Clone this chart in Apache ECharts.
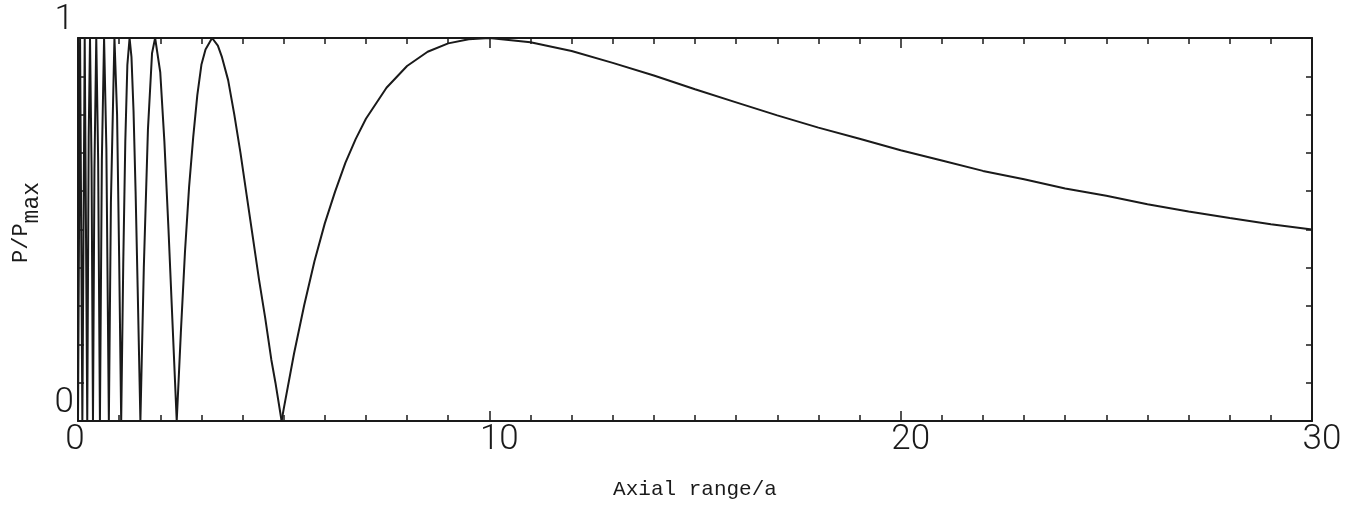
<!DOCTYPE html>
<html>
<head>
<meta charset="utf-8">
<script src="https://cdn.jsdelivr.net/npm/echarts@6/dist/echarts.min.js"></script>
<style>
  html, body { margin: 0; padding: 0; background: #fff; }
  #chart { width: 1359px; height: 529px; }
</style>
</head>
<body>
<div id="chart"></div>
<script>
// near field: lobes between the on-axis nulls
var nearRange = [0, 0.05, 0.106, 0.163, 0.225, 0.26, 0.292, 0.33, 0.364, 0.4, 0.444, 0.49, 0.533,
  0.58, 0.634, 0.69, 0.75, 0.8, 0.886, 0.95, 1.0, 1.05, 1.1, 1.15, 1.2, 1.254, 1.3, 1.35, 1.4, 1.45, 1.517,
  1.6, 1.7, 1.8, 1.875, 2.0, 2.1, 2.2, 2.3, 2.4, 2.5, 2.6, 2.7, 2.8, 2.9, 3.0, 3.1, 3.26, 3.4, 3.5,
  3.65, 3.8, 3.95, 4.1, 4.25, 4.4, 4.55, 4.7, 4.8, 4.95];
var nearRatio = [0, 1, 0, 1, 0, 0.74, 1, 0.66, 0, 0.66, 1, 0.68, 0,
  0.68, 1, 0.71, 0, 0.57, 1, 0.80, 0.43, 0, 0.41, 0.73, 0.93, 1, 0.95, 0.81, 0.60, 0.35, 0,
  0.40, 0.76, 0.96, 1, 0.91, 0.73, 0.50, 0.25, 0, 0.23, 0.44, 0.61, 0.74, 0.85, 0.93, 0.97, 1, 0.98, 0.95,
  0.89, 0.80, 0.70, 0.59, 0.48, 0.37, 0.27, 0.16, 0.10, 0];

// far field: last maximum near 10 then the slow decay
var farRange = [4.95, 5.0, 5.25, 5.5, 5.75, 6, 6.25, 6.5, 6.75, 7, 7.5, 8, 8.5, 9, 9.5, 10, 11, 12, 13, 14, 15,
  16, 17, 18, 19, 20, 21, 22, 23, 24, 25, 26, 27, 28, 29, 30];
var farRatio = [0, 0.031, 0.175, 0.303, 0.418, 0.516, 0.599, 0.674, 0.736, 0.789, 0.870, 0.927, 0.964, 0.986,
  0.997, 1.0, 0.989, 0.966, 0.935, 0.902, 0.866, 0.832, 0.798, 0.766, 0.737, 0.707, 0.680, 0.653,
  0.631, 0.607, 0.588, 0.566, 0.547, 0.530, 0.514, 0.500];

var xTicks = [0, 10, 20, 30];
var yTicks = [0, 1];

function pairs(xs, ys) {
  var out = [];
  for (var i = 0; i < xs.length; i++) out.push([xs[i], ys[i]]);
  return out;
}

var ink = '#1a1a1a';
var digitFont = { fontFamily: 'Roboto', fontWeight: 300, fontSize: 35, color: ink, lineHeight: 35 };

function xAxisFor(pos, labels) {
  return {
    type: 'value', position: pos, min: 0, max: 30, interval: 10,
    axisLine: { show: true, onZero: false, lineStyle: { color: ink, width: 2 } },
    axisTick: { show: true, inside: true, length: 10, lineStyle: { color: ink, width: 1.5 } },
    minorTick: { show: true, splitNumber: 10, length: 6, lineStyle: { color: ink, width: 1.5 } },
    splitLine: { show: false },
    axisLabel: labels ? Object.assign({
      show: true, margin: 2,
      formatter: function (v) {
        if (xTicks.indexOf(v) < 0) return '';
        return v === 0 ? '{z|0}' : '{s|' + v + '}';
      },
      rich: {
        z: Object.assign({ padding: [0, 6, 0, 0] }, digitFont),
        s: Object.assign({ padding: [0, 0, 0, 20] }, digitFont)
      }
    }, digitFont) : { show: false }
  };
}

function yAxisFor(pos, labels) {
  return {
    type: 'value', position: pos, min: 0, max: 1, interval: 0.1,
    axisLine: { show: true, onZero: false, lineStyle: { color: ink, width: 2 } },
    axisTick: { show: true, inside: true, length: 6, lineStyle: { color: ink, width: 1.5 } },
    splitLine: { show: false },
    axisLabel: labels ? Object.assign({ show: true, margin: 4, verticalAlign: 'bottom', lineHeight: 30,
      formatter: function (v) {
        var r = Math.round(v * 10) / 10;
        return yTicks.indexOf(r) >= 0 ? String(r) : '';
      } }, digitFont) : { show: false }
  };
}

var xBottom = xAxisFor('bottom', true);
xBottom.name = 'Axial range/a';
xBottom.nameLocation = 'middle';
xBottom.nameGap = 58;
xBottom.nameTextStyle = { fontFamily: 'Liberation Mono', fontSize: 21, color: ink };

var yLeft = yAxisFor('left', true);
yLeft.name = '{a|P/P}{b|max}';
yLeft.nameLocation = 'middle';
yLeft.nameRotate = 90;
yLeft.nameGap = 38;
yLeft.nameTextStyle = {
  color: ink,
  padding: [0, 0, 0, 14],
  rich: {
    a: { fontFamily: 'Liberation Mono', fontSize: 22, color: ink, lineHeight: 22, verticalAlign: 'top' },
    b: { fontFamily: 'Liberation Mono', fontSize: 23, color: ink, lineHeight: 20, padding: [22, 0, 0, 0] }
  }
};

var option = {
  backgroundColor: '#fff',
  animation: false,
  grid: { left: 78, right: 47, top: 38, bottom: 108, containLabel: false, outerBoundsMode: 'none' },
  xAxis: [xBottom, xAxisFor('top', false)],
  yAxis: [yLeft, yAxisFor('right', false)],
  series: [
    {
      type: 'line', xAxisIndex: 0, yAxisIndex: 0,
      data: pairs(nearRange, nearRatio),
      showSymbol: false, smooth: false,
      lineStyle: { color: ink, width: 2 }
    },
    {
      type: 'line', xAxisIndex: 0, yAxisIndex: 0,
      data: pairs(farRange, farRatio),
      showSymbol: false, smooth: false,
      lineStyle: { color: ink, width: 2 }
    }
  ]
};

var myChart = echarts.init(document.getElementById('chart'));
myChart.setOption(option);
</script>
</body>
</html>
